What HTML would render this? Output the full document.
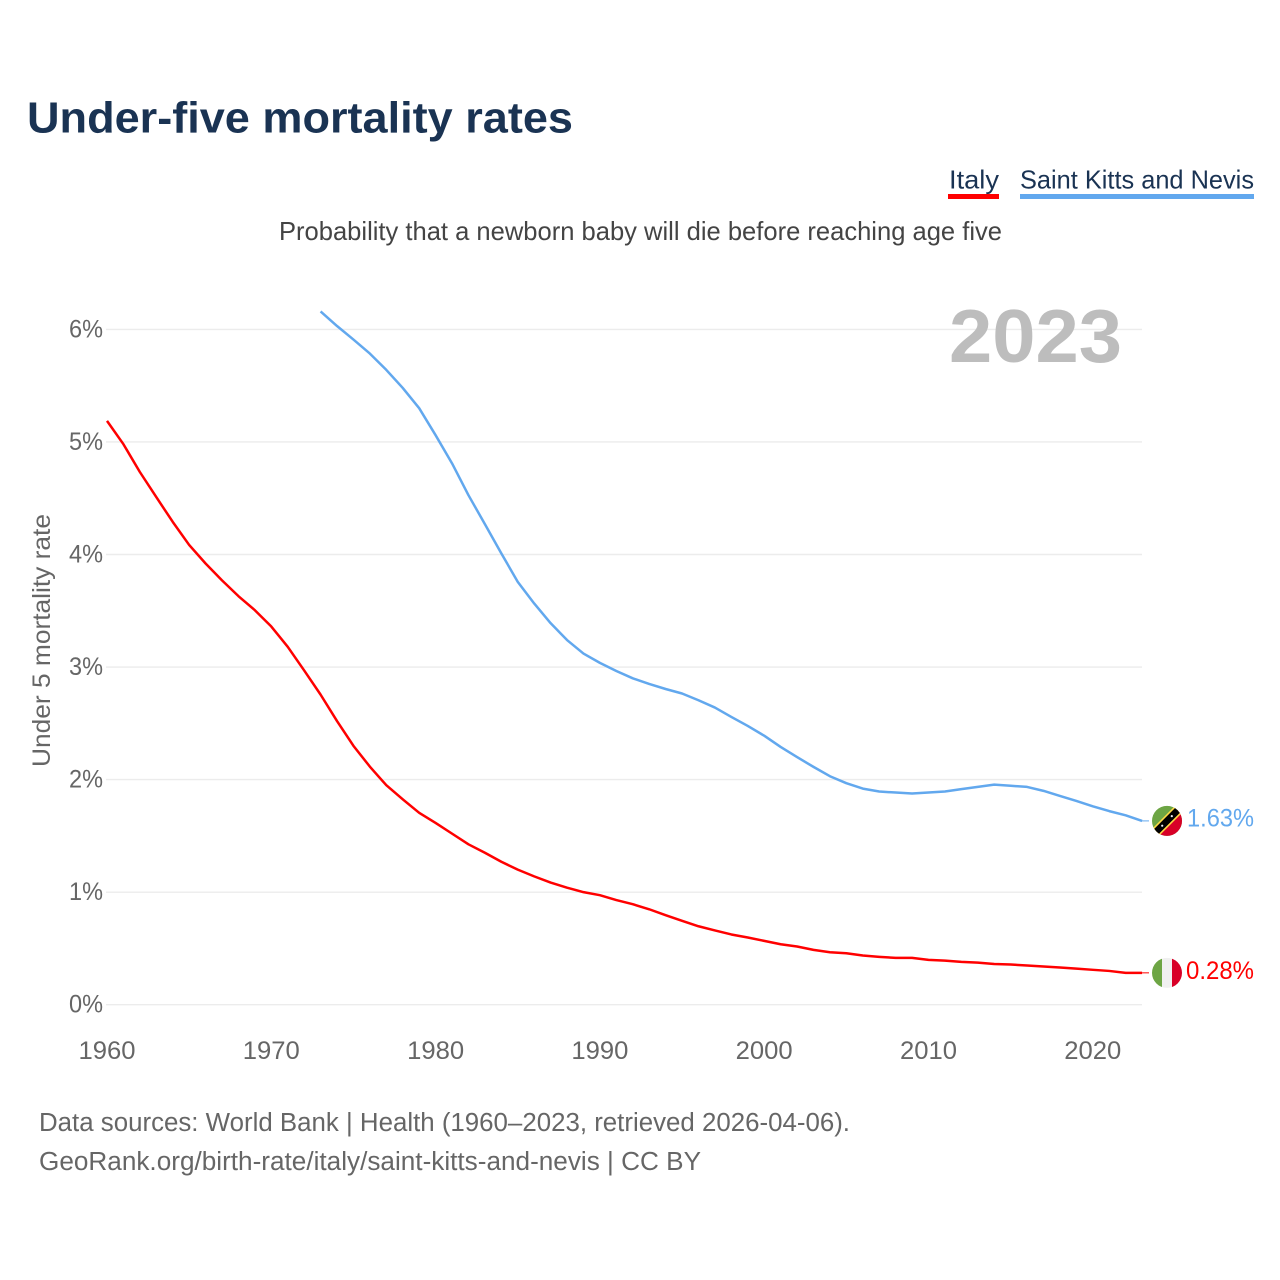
<!DOCTYPE html>
<html lang="en">
<head>
<meta charset="utf-8">
<title>Under-five mortality rates</title>
<style>
  html, body { margin: 0; padding: 0; background: #fff; }
  svg { display: block; font-family: "Liberation Sans", sans-serif; }
</style>
</head>
<body>
<svg id="chart" xmlns="http://www.w3.org/2000/svg" width="1280" height="1280" viewBox="0 0 1280 1280">
  <rect width="1280" height="1280" fill="#fff"/>
  <text x="27" y="132.5" font-size="44" font-weight="700" fill="#1a3353" textLength="546" lengthAdjust="spacingAndGlyphs">Under-five mortality rates</text>
  <g>
    <g>
      <text x="949" y="188.5" font-size="26" fill="#1a3353" textLength="50" lengthAdjust="spacingAndGlyphs">Italy</text>
      <rect x="948" y="194" width="51" height="5" fill="#ff0000"/>
    </g>
    <g>
      <text x="1020" y="188.5" font-size="26" fill="#1a3353" textLength="234" lengthAdjust="spacingAndGlyphs">Saint Kitts and Nevis</text>
      <rect x="1020" y="194" width="234" height="5" fill="#62a8ee"/>
    </g>
  </g>
  <text x="279" y="240" font-size="26" fill="#444" textLength="723" lengthAdjust="spacingAndGlyphs">Probability that a newborn baby will die before reaching age five</text>
  <g id="grid"></g>
  <text x="949" y="362" font-size="75" font-weight="700" fill="#bdbdbd" textLength="173" lengthAdjust="spacingAndGlyphs">2023</text>
  <g id="y-ticks"></g>
  <g id="x-ticks"></g>
  <text transform="translate(50,767) rotate(-90)" x="0" y="0" font-size="25" fill="#666" textLength="253" lengthAdjust="spacingAndGlyphs">Under 5 mortality rate</text>
  <g id="series"></g>
  <defs>
    <clipPath id="flag-clip-top"><circle id="flag-clip-kitts" cx="1167" cy="820" r="15"/></clipPath>
    <clipPath id="flag-clip-bottom"><circle id="flag-clip-italy" cx="1167" cy="973" r="15"/></clipPath>
  </defs>
  <g id="flag-kitts-clip" clip-path="url(#flag-clip-top)">
    <g id="flag-kitts">
      <rect x="-16" y="-16" width="32" height="32" fill="#6da544"/>
      <polygon points="-16,16 16,-16 16,16" fill="#d80027"/>
      <rect x="-24" y="-5" width="48" height="10" fill="#ffda44" transform="rotate(-45)"/>
      <rect x="-24" y="-3.4" width="48" height="6.8" fill="#000" transform="rotate(-45)"/>
      <circle cx="-4.8" cy="4.8" r="1.1" fill="#f0f0f0"/>
      <circle cx="4.8" cy="-4.8" r="1.1" fill="#f0f0f0"/>
    </g>
  </g>
  <g id="flag-italy-clip" clip-path="url(#flag-clip-bottom)">
    <g id="flag-italy">
      <rect x="-15" y="-16" width="10" height="32" fill="#6da544"/>
      <rect x="-5" y="-16" width="10" height="32" fill="#f0f0f0"/>
      <rect x="5" y="-16" width="10" height="32" fill="#d80027"/>
    </g>
  </g>
  <g>
    <text x="39" y="1131" font-size="25.5" fill="#666" textLength="811" lengthAdjust="spacingAndGlyphs">Data sources: World Bank | Health (1960–2023, retrieved 2026-04-06).</text>
    <text x="39" y="1170" font-size="25.5" fill="#666" textLength="662" lengthAdjust="spacingAndGlyphs">GeoRank.org/birth-rate/italy/saint-kitts-and-nevis | CC BY</text>
  </g>
</svg>
<script>
const yTickValues = [0, 1, 2, 3, 4, 5, 6];
const yTickLabels = ["0%", "1%", "2%", "3%", "4%", "5%", "6%"];
const xTickYears = [1960, 1970, 1980, 1990, 2000, 2010, 2020];
const xTickLabels = ["1960", "1970", "1980", "1990", "2000", "2010", "2020"];
const italyStartYear = 1960;
const italyValues = [
  5.187, 4.98, 4.733, 4.51, 4.29, 4.085, 3.92, 3.77, 3.63, 3.505,
  3.36, 3.18, 2.97, 2.755, 2.52, 2.30, 2.115, 1.95, 1.825, 1.705,
  1.615, 1.52, 1.425, 1.35, 1.27, 1.20, 1.14, 1.085, 1.04, 1.00,
  0.973, 0.93, 0.893, 0.848, 0.795, 0.745, 0.697, 0.66, 0.624, 0.597,
  0.567, 0.537, 0.517, 0.487, 0.466, 0.457, 0.437, 0.425, 0.416, 0.416,
  0.398, 0.392, 0.38, 0.374, 0.362, 0.357, 0.348, 0.339, 0.33, 0.32,
  0.31, 0.30, 0.283, 0.283
];
const kittsStartYear = 1973;
const kittsValues = [
  6.16, 6.03, 5.91, 5.785, 5.64, 5.48, 5.30,
  5.06, 4.81, 4.527, 4.27, 4.01, 3.757, 3.565, 3.39, 3.24, 3.12,
  3.037, 2.965, 2.90, 2.85, 2.805, 2.765, 2.705, 2.64, 2.557, 2.477,
  2.39, 2.29, 2.20, 2.113, 2.03, 1.968, 1.92, 1.894, 1.885, 1.876,
  1.885, 1.894, 1.915, 1.935, 1.955, 1.945, 1.935, 1.90, 1.855, 1.81,
  1.763, 1.72, 1.683, 1.633
];
const italyEndLabel = "0.28%";
const kittsEndLabel = "1.63%";

const NS = "http://www.w3.org/2000/svg";
function xScale(year) { return 107 + (year - 1960) * 16.43; }
function yScale(value) { return 1004.7 - value * 112.55; }

function make(tag, attrs, text) {
  const el = document.createElementNS(NS, tag);
  for (const key in attrs) el.setAttribute(key, attrs[key]);
  if (text !== undefined) el.textContent = text;
  return el;
}

const gridGroup = document.getElementById("grid");
const yTickGroup = document.getElementById("y-ticks");
yTickValues.forEach(function (value, i) {
  const y = yScale(value);
  const line = make("line", { x1: 106, x2: 1142, y1: y, y2: y, stroke: "#ececec", "stroke-width": 1.4 });
  
  
  gridGroup.appendChild(line);
  const label = make("text", { x: 103, y: y + 8, "text-anchor": "end", "font-size": 25, fill: "#666", textLength: 34, lengthAdjust: "spacingAndGlyphs" }, yTickLabels[i]);
  
  
  yTickGroup.appendChild(label);
});

const xTickGroup = document.getElementById("x-ticks");
xTickYears.forEach(function (year, i) {
  const label = make("text", { x: xScale(year), y: 1059, "text-anchor": "middle", "font-size": 25, fill: "#666", textLength: 57, lengthAdjust: "spacingAndGlyphs" }, xTickLabels[i]);
  
  
  xTickGroup.appendChild(label);
});

function linePath(values, startYear) {
  return values.map(function (v, i) {
    return (i ? "L" : "M") + xScale(startYear + i).toFixed(2) + " " + yScale(v).toFixed(2);
  }).join(" ");
}

const seriesGroup = document.getElementById("series");

const italyLine = make("path", { d: linePath(italyValues, italyStartYear), fill: "none", stroke: "#ff0000", "stroke-width": 2.5, "stroke-linejoin": "round" });


seriesGroup.appendChild(italyLine);

const kittsLine = make("path", { d: linePath(kittsValues, kittsStartYear), fill: "none", stroke: "#62a8ee", "stroke-width": 2.5, "stroke-linejoin": "round" });


seriesGroup.appendChild(kittsLine);

const italyEndY = yScale(italyValues[italyValues.length - 1]);
const kittsEndY = yScale(kittsValues[kittsValues.length - 1]);

const italyLeader = make("line", { x1: xScale(2023), x2: 1149, y1: italyEndY, y2: italyEndY, stroke: "#ff0000", "stroke-width": 1 });


seriesGroup.appendChild(italyLeader);

const kittsLeader = make("line", { x1: xScale(2023), x2: 1149, y1: kittsEndY, y2: kittsEndY, stroke: "#62a8ee", "stroke-width": 1 });


seriesGroup.appendChild(kittsLeader);

const italyEnd = make("text", { x: 1254, y: italyEndY + 6, "text-anchor": "end", "font-size": 25, fill: "#ff0000", textLength: 68, lengthAdjust: "spacingAndGlyphs" }, italyEndLabel);


seriesGroup.appendChild(italyEnd);

const kittsEnd = make("text", { x: 1254, y: kittsEndY + 5.5, "text-anchor": "end", "font-size": 25, fill: "#62a8ee", textLength: 67, lengthAdjust: "spacingAndGlyphs" }, kittsEndLabel);


seriesGroup.appendChild(kittsEnd);

document.getElementById("flag-clip-kitts").setAttribute("cy", kittsEndY);
document.getElementById("flag-clip-italy").setAttribute("cy", italyEndY);
document.getElementById("flag-kitts").setAttribute("transform", "translate(1167," + kittsEndY + ")");
document.getElementById("flag-italy").setAttribute("transform", "translate(1167," + italyEndY + ")");
</script>
</body>
</html>
